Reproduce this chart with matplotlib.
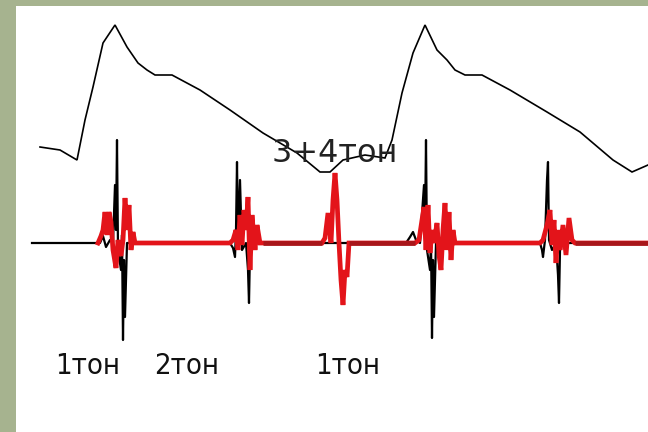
import matplotlib.pyplot as plt

# time axis in arbitrary units, amplitude in arbitrary units (0 = baseline)
pulse_t = [24, 44, 61, 69, 77, 87, 99, 111, 122, 131, 139, 156, 184, 214, 247, 281, 304, 314,
           327, 349, 369, 376, 386, 397, 409, 421, 431, 439, 449, 466, 494, 531, 564, 597, 616, 632]
pulse_a = [96, 93, 83, 123, 156, 200, 218, 196, 180, 173, 168, 168, 153, 133, 110, 90, 71, 71,
           83, 88, 85, 103, 150, 190, 218, 193, 183, 173, 168, 168, 153, 131, 111, 83, 71, 78]

# black sound trace
black_t = [16, 84, 87, 90, 94, 97, 99, 100, 101, 102, 105, 106, 107, 108, 109, 111,
           214, 217, 219, 220, 221, 222, 224, 226, 230, 232, 233, 234, 236,
           390, 394, 397, 400, 404, 408, 409, 410, 411, 414, 415, 416, 417, 418, 420,
           524, 526, 527, 529, 531, 532, 533, 536, 540, 542, 543, 544, 546, 632]
black_a = [0, 0, 7, -4, 3, 0, 58, 13, 103, -7, -27, 8, -97, -17, -74, 0,
           0, -5, -14, 13, 81, 3, 63, -7, 0, -27, -60, -7, 0,
           0, 6, 11, 3, 0, 58, 13, 103, -7, -27, 3, -95, -17, -74, 0,
           0, -7, -14, 3, 63, 81, 3, -7, 0, -32, -60, -7, 0, 0]

# red sound trace
red_t = [82, 85, 87, 89, 91, 93, 95, 97, 100, 102, 105, 107, 109, 111, 113, 115, 117, 119,
         214, 217, 220, 222, 224, 226, 228, 230, 232, 234, 236, 239, 241, 244,
         306, 309, 312, 315, 317, 319, 321, 323, 325, 327, 329, 331, 333,
         399, 403, 406, 408, 410, 412, 414, 416, 418, 421, 423, 425, 427, 429, 431, 433, 435, 437, 439,
         524, 527, 531, 534, 536, 538, 540, 542, 544, 547, 550, 553, 556, 559, 632]
red_a = [0, 7, 13, 31, 8, 31, 21, -7, -25, 3, -13, 3, 45, 13, 38, -7, 11, 0,
         0, 3, 13, -7, 28, -2, 33, 13, 46, -27, 28, -7, 18, 0,
         0, 5, 30, 0, 43, 70, 43, 0, -37, -62, -27, -34, 0,
         0, 3, 23, 36, -7, 38, -10, 13, 0, 20, -12, -27, 13, 40, -7, 31, -17, 13, 0,
         0, 3, 18, 33, -2, 23, -20, 13, -7, 18, -12, 25, 3, 0, 0]

# darker stretches of the red baseline
dark_spans = [(247, 306), (333, 399), (559, 632)]

labels = ["1тон", "2тон", "1тон"]
label_t = [39, 138, 299]
label_a = -131
extra_label = "3+4тон"
extra_t, extra_a = 256, 81

fig = plt.figure(figsize=(6.48, 4.32), dpi=100, facecolor="#a6b38f")
ax = fig.add_axes([16 / 648, 0, 632 / 648, 426 / 432])
ax.set_facecolor("white")
ax.set_xlim(0, 632)
ax.set_ylim(-189, 237)
ax.set_xticks([])
ax.set_yticks([])
for s in ax.spines.values():
    s.set_visible(False)

ax.plot(pulse_t, pulse_a, color="black", lw=1.2, solid_joinstyle="miter")
ax.plot(black_t, black_a, color="black", lw=1.6)
ax.plot(red_t, red_a, color="#e3141a", lw=3.4, solid_joinstyle="miter")
for t0, t1 in dark_spans:
    ax.plot([t0, t1], [0, 0], color="#a8161a", lw=3.4, solid_capstyle="butt")

for lab, t in zip(labels, label_t):
    ax.text(t, label_a, lab, fontsize=21, va="baseline", ha="left",
            family="DejaVu Sans", fontstretch="condensed", color="#111111")
ax.text(extra_t, extra_a, extra_label, fontsize=23, va="baseline", ha="left",
        family="DejaVu Sans", color="#222222")

plt.savefig("out.png", dpi=100, facecolor=fig.get_facecolor())
